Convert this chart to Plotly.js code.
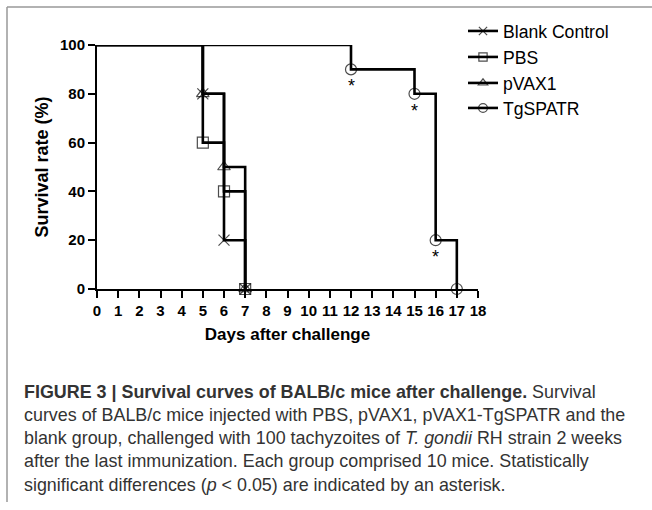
<!DOCTYPE html>
<html>
<head>
<meta charset="utf-8">
<script src="https://cdn.plot.ly/plotly-3.0.1.min.js"></script>
<style>
  html, body { margin: 0; padding: 0; background: #fff; overflow: hidden; }
  #wrap { width: 652px; height: 510px; overflow: hidden; }
  #chart { width: 680px; height: 510px; }
</style>
</head>
<body>
<div id="wrap"><div id="chart"></div></div>
<script>
// ---- data ----
const seriesNames = ["Blank Control", "PBS", "pVAX1", "TgSPATR"];
const blankDays = [0, 5, 6, 7];
const blankSurv = [100, 80, 20, 0];
const pbsDays = [0, 5, 6, 7];
const pbsSurv = [100, 60, 40, 0];
const pvaxDays = [0, 5, 6, 7];
const pvaxSurv = [100, 80, 50, 0];
const tgDays = [0, 12, 15, 16, 17];
const tgSurv = [100, 90, 80, 20, 0];
const sigDays = [12, 15, 16];           // asterisks (p < 0.05)
const xTickVals = [0,1,2,3,4,5,6,7,8,9,10,11,12,13,14,15,16,17,18];
const yTickVals = [0, 20, 40, 60, 80, 100];
const captionLines = [
  "<b>FIGURE 3 | Survival curves of BALB/c mice after challenge.</b> Survival",
  "curves of BALB/c mice injected with PBS, pVAX1, pVAX1-TgSPATR and the",
  "blank group, challenged with 100 tachyzoites of <i>T. gondii</i> RH strain 2 weeks",
  "after the last immunization. Each group comprised 10 mice. Statistically",
  "significant differences (<i>p</i> &lt; 0.05) are indicated by an asterisk."
];

// ---- layout geometry (pixels) ----
const VIEW_W = 652, FIG_W = 680, FIG_H = 510;
const L = 97, R = 478, T = 45, B = 289;
const PW = R - L, PH = B - T;
const px2x = p => (p - L) / PW;
const py2y = p => (B - p) / PH;
const FONT = "Liberation Sans, Arial, Helvetica, sans-serif";

const symbols = ["x-thin-open", "square-open", "triangle-up-open", "circle-open"];
const allX = [blankDays, pbsDays, pvaxDays, tgDays];
const allY = [blankSurv, pbsSurv, pvaxSurv, tgSurv];
const legendIds = ["legend", "legend2", "legend3", "legend4"];
const legendRowY = [31, 57, 83, 108];

const traces = seriesNames.map((name, i) => ({
  type: "scatter",
  mode: "lines+markers",
  name: name,
  x: allX[i],
  y: allY[i],
  line: { shape: "hv", color: "#000", width: 2.6 },
  marker: {
    symbol: symbols[i],
    size: allX[i].map((_, k) => (k === 0 ? 0 : 11)),
    color: "#000",
    line: { color: "#000", width: 1.2 }
  },
  cliponaxis: false,
  legend: legendIds[i]
}));

const annotations = [];
sigDays.forEach(d => {
  const idx = tgDays.indexOf(d);
  annotations.push({
    x: d, y: tgSurv[idx], xref: "x", yref: "y",
    text: "*", showarrow: false, yshift: -17,
    font: { family: FONT, size: 18, color: "#000" }
  });
});
captionLines.forEach((t, i) => {
  annotations.push({
    x: px2x(22), y: py2y(391.5 + i * 23.3), xref: "paper", yref: "paper",
    xanchor: "left", yanchor: "middle", align: "left",
    text: t, showarrow: false,
    font: { family: FONT, size: 17.9, color: "#333" }
  });
});

const layout = {
  width: FIG_W, height: FIG_H,
  margin: { l: L, r: FIG_W - R, t: T, b: FIG_H - B, pad: 0 },
  paper_bgcolor: "#fff", plot_bgcolor: "#fff",
  showlegend: true,
  xaxis: {
    range: [0, 18], tickvals: xTickVals, ticktext: xTickVals.map(String),
    ticks: "outside", ticklen: 7, tickwidth: 2, tickcolor: "#000",
    showline: true, linewidth: 2, linecolor: "#000",
    showgrid: false, zeroline: false,
    tickfont: { family: FONT, size: 15, color: "#000", weight: "bold" },
    title: { text: "Days after challenge", standoff: 10,
      font: { family: FONT, size: 17, color: "#000", weight: "bold" } },
    fixedrange: true
  },
  yaxis: {
    range: [0, 100], tickvals: yTickVals, ticktext: yTickVals.map(String),
    ticks: "outside", ticklen: 7, tickwidth: 2, tickcolor: "#000",
    showline: true, linewidth: 2, linecolor: "#000",
    showgrid: false, zeroline: false,
    tickfont: { family: FONT, size: 15, color: "#000", weight: "bold" },
    title: { text: "Survival rate (%)", standoff: 7,
      font: { family: FONT, size: 18, color: "#000", weight: "bold" } },
    fixedrange: true
  },
  annotations: annotations,
  shapes: [
    { type: "line", xref: "paper", yref: "paper", x0: px2x(7), x1: px2x(VIEW_W), y0: py2y(7), y1: py2y(7),
      line: { color: "#999", width: 1.5 } },
    { type: "line", xref: "paper", yref: "paper", x0: px2x(7), x1: px2x(7), y0: py2y(7), y1: py2y(502),
      line: { color: "#999", width: 1.5 } }
  ]
};
legendIds.forEach((id, i) => {
  layout[id] = {
    xref: "paper", yref: "paper",
    x: px2x(463), y: py2y(legendRowY[i]), xanchor: "left", yanchor: "middle",
    font: { family: FONT, size: 17.6, color: "#000" },
    bgcolor: "rgba(0,0,0,0)", borderwidth: 0, itemclick: false
  };
});

Plotly.newPlot("chart", traces, layout, { displayModeBar: false, staticPlot: true });
</script>
</body>
</html>
